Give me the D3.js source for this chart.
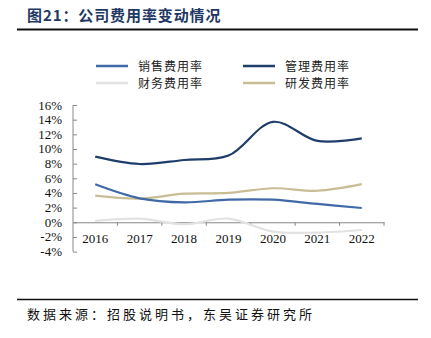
<!DOCTYPE html>
<html><head><meta charset="utf-8">
<script src="https://cdn.jsdelivr.net/npm/d3@7"></script>
<style>body{margin:0;background:#fff;}svg{display:block;}</style>
</head><body>
<script>
const years = ["2016","2017","2018","2019","2020","2021","2022"];
const salesRate = [5.18, 3.27, 2.72, 3.08, 3.08, 2.5, 1.95];
const mgmtRate = [8.95, 7.95, 8.5, 9.1, 13.7, 11.1, 11.45];
const finRate = [0.18, 0.5, -0.27, 0.5, -1.28, -1.4, -1.05];
const rdRate = [3.63, 3.22, 3.9, 4.0, 4.64, 4.3, 5.2];
const yTicks = [-4,-2,0,2,4,6,8,10,12,14,16];
const seriesNames = ["销售费用率","管理费用率","财务费用率","研发费用率"];
const seriesColors = ["#4069A8","#1F3D6B","#E2E2E2","#C8BD94"];
const seriesData = [salesRate, mgmtRate, finRate, rdRate];

const W=431,H=338;
const svg=d3.select("body").append("svg").attr("width",W).attr("height",H);
const cjk='"Noto Sans CJK SC", sans-serif';
const serif='"Liberation Serif","Times New Roman",serif';

svg.append("text").attr("x",27).attr("y",20.5).attr("fill","#1F3864")
  .attr("font-family",cjk).attr("font-weight","bold").attr("font-size",15)
  .attr("letter-spacing",0.9)
  .text("图21：公司费用率变动情况");
svg.append("line").attr("x1",17).attr("x2",418).attr("y1",29.5).attr("y2",29.5).attr("stroke","#111").attr("stroke-width",2);
svg.append("line").attr("x1",17).attr("x2",418).attr("y1",299.5).attr("y2",299.5).attr("stroke","#111").attr("stroke-width",1.6);
svg.append("text").attr("x",27).attr("y",319).attr("fill","#111")
  .attr("font-family",cjk).attr("font-size",13).attr("letter-spacing",3.0)
  .text("数据来源：招股说明书，东吴证券研究所");

// legend
const legPos=[[96,66],[243,66],[96,83],[243,83]];
seriesNames.forEach((n,i)=>{
  const [lx,ly]=legPos[i];
  svg.append("line").attr("x1",lx).attr("x2",lx+32).attr("y1",ly).attr("y2",ly)
    .attr("stroke",seriesColors[i]).attr("stroke-width",2.5);
  svg.append("text").attr("x",lx+42).attr("y",ly+4.5).attr("font-family",cjk)
    .attr("font-size",12).attr("fill","#222").attr("letter-spacing",1).text(n);
});

const x=d3.scaleBand().domain(years).range([73,384]);
const y=d3.scaleLinear().domain([-4,16]).range([251.6,105]);

// y axis
const ya=svg.append("g").attr("transform","translate(73,0)")
  .call(d3.axisRight(y).tickValues(yTicks).tickSize(4).tickFormat(""));
ya.selectAll("path,line").attr("stroke","#888");
ya.select(".domain").attr("d",`M0,${y(-4)}V${y(16)}`);
svg.selectAll(".ylab").data(yTicks).enter().append("text")
  .attr("x",62).attr("y",d=>y(d)+4.5).attr("text-anchor","end")
  .attr("font-family",serif).attr("font-size",13).attr("fill","#111")
  .text(d=>d+"%");

// x axis at 0
const xa=svg.append("g").attr("transform",`translate(0,${y(0)})`)
  .call(d3.axisBottom(x).tickSize(0).tickFormat(""));
xa.select(".domain").attr("stroke","#888");
const bounds=years.map((d,i)=>x(d)).concat([384]).slice(1);
xa.selectAll(".bt").data(bounds).enter().append("line")
  .attr("x1",d=>d).attr("x2",d=>d).attr("y1",0).attr("y2",3.5).attr("stroke","#888");
svg.selectAll(".xlab").data(years).enter().append("text")
  .attr("x",d=>x(d)+x.bandwidth()/2).attr("y",243)
  .attr("text-anchor","middle").attr("font-family",serif).attr("font-size",13).attr("fill","#111")
  .text(d=>d);

const line=d3.line().x((d,i)=>x(years[i])+x.bandwidth()/2).y(d=>y(d)).curve(d3.curveCatmullRom.alpha(0.5));
const order=[2,3,0,1];
order.forEach(i=>{
  svg.append("path").attr("d",line(seriesData[i])).attr("fill","none")
    .attr("stroke",seriesColors[i]).attr("stroke-width",2.2);
});
</script>
</body></html>
